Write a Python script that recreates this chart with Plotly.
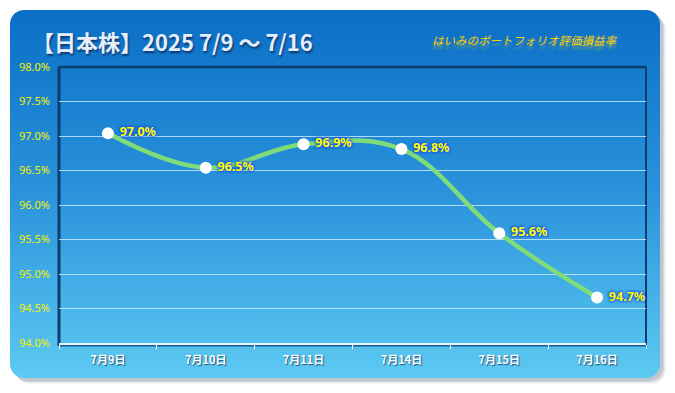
import numpy as np
import plotly.graph_objects as go

# ---------------- data ----------------
categories = ["7月9日", "7月10日", "7月11日", "7月14日", "7月15日", "7月16日"]
values = [97.04, 96.54, 96.88, 96.81, 95.59, 94.66]
y_tick_vals = [94.0, 94.5, 95.0, 95.5, 96.0, 96.5, 97.0, 97.5, 98.0]
title_text = "【日本株】2025 7/9 ～ 7/16"
subtitle_text = "はいみのポートフォリオ評価損益率"

W, H = 675, 393
PX0, PX1, PY0, PY1 = 59, 646, 67, 343   # plot area in pixels (top-down)


def rrect(x0, y0, x1, y1, r, n=10):
    pts = []
    corners = [(x1 - r, y0 + r, -90, 0), (x1 - r, y1 - r, 0, 90),
               (x0 + r, y1 - r, 90, 180), (x0 + r, y0 + r, 180, 270)]
    for cx, cy, a0, a1 in corners:
        for a in np.linspace(a0, a1, n):
            t = np.radians(a)
            pts.append((cx + r * np.cos(t), cy + r * np.sin(t)))
    pts.append(pts[0])
    return [p[0] for p in pts], [H - p[1] for p in pts]


fig = go.Figure()

# ---- background (pixel-coordinate axes x/y) ----
for off, op in [(6, 0.06), (5, 0.08), (4, 0.10), (3, 0.12)]:
    xs, ys = rrect(10 + off, 10 + off, 660 + off, 378 + off, 14)
    fig.add_trace(go.Scatter(x=xs, y=ys, fill="toself", mode="none",
                             fillcolor=f"rgba(60,80,110,{op})", hoverinfo="skip",
                             showlegend=False, xaxis="x", yaxis="y"))
xs, ys = rrect(10, 10, 660, 378, 14)
fig.add_trace(go.Scatter(
    x=xs, y=ys, fill="toself", mode="none", hoverinfo="skip", showlegend=False,
    fillgradient=dict(type="vertical", start=H - 378, stop=H - 10,
                      colorscale=[[0, "#5ccaf2"], [0.5, "#2a93db"], [1, "#0b6fc6"]]),
    xaxis="x", yaxis="y"))

# plot-area frame
frame_lines = [
    ([PX0, PX0], [PY0, PY1 + 3], "#0b3d6e", 3),
    ([PX0, PX1], [PY0, PY0], "#0b3d6e", 2.5),
    ([PX1, PX1], [PY0, PY1 + 3], "#0b3d6e", 2),
    ([PX0, PX1], [PY1 + 2.5, PY1 + 2.5], "#1a5a8e", 2),
]
for fx, fy, c, w in frame_lines:
    fig.add_trace(go.Scatter(x=fx, y=[H - v for v in fy], mode="lines",
                             line=dict(color=c, width=w), hoverinfo="skip",
                             showlegend=False, xaxis="x", yaxis="y"))

# ---- main series (axes x2/y2) ----
fig.add_trace(go.Scatter(
    x=categories, y=values, mode="lines+markers+text",
    line=dict(color="#7fdc78", width=4.5, shape="spline", smoothing=1.1),
    marker=dict(color="white", size=12),
    text=[f" {v:.1f}%" for v in values], textposition="middle right",
    textfont=dict(color="#ffff00", size=12.5, family="Noto Sans", weight="bold",
                  shadow="0 0 3px #1b50e8, 0 0 3px #1b50e8, 0 0 3px #1b50e8"),
    showlegend=False, xaxis="x2", yaxis="y2", cliponaxis=False))

fig.update_layout(
    width=W, height=H, margin=dict(l=0, r=0, t=0, b=0, autoexpand=False),
    paper_bgcolor="white", plot_bgcolor="rgba(0,0,0,0)",
    xaxis=dict(domain=[0, 1], range=[0, W], visible=False, fixedrange=True),
    yaxis=dict(domain=[0, 1], range=[0, H], visible=False, fixedrange=True),
    xaxis2=dict(domain=[PX0 / W, PX1 / W], anchor="y2", type="category",
                range=[-0.5, len(categories) - 0.5],
                tickson="boundaries", ticks="outside", ticklen=4, tickcolor="white",
                showline=True, linecolor="#e8f4ff", linewidth=1.5, showgrid=False,
                automargin=False, ticklabelstandoff=6,
                tickfont=dict(color="white", size=11, family="Noto Sans CJK JP", weight="bold",
                              shadow="1px 1px 1px #24557f")),
    yaxis2=dict(domain=[1 - PY1 / H, 1 - PY0 / H], anchor="x2", range=[94, 98],
                tickvals=y_tick_vals, ticktext=[f"{v:.1f}%" for v in y_tick_vals],
                showgrid=True, gridcolor="rgba(200,232,255,0.85)", gridwidth=1,
                zeroline=False, ticks="", ticklabelstandoff=8, automargin=False,
                tickfont=dict(color="#f2f200", size=11, family="Noto Sans")),
    annotations=[
        dict(text=title_text, xref="paper", yref="paper", x=30 / W, y=1 - 41 / H,
             xanchor="left", yanchor="middle", showarrow=False,
             font=dict(size=22, color="#e6eefa", family="Noto Sans CJK JP", weight="bold",
                       shadow="1px 2px 2px rgba(10,40,90,0.8)")),
        dict(text=subtitle_text, xref="paper", yref="paper", x=430 / W, y=1 - 40 / H,
             xanchor="left", yanchor="middle", showarrow=False,
             font=dict(size=11.5, color="#ffd000", family="Noto Sans CJK JP", style="italic",
                       shadow="0px 4px 2px rgba(255,220,0,0.35)")),
    ],
)

fig.write_html("out.html", config={"displayModeBar": False},
               post_script="document.body.style.margin='0';document.body.style.overflow='hidden';")
